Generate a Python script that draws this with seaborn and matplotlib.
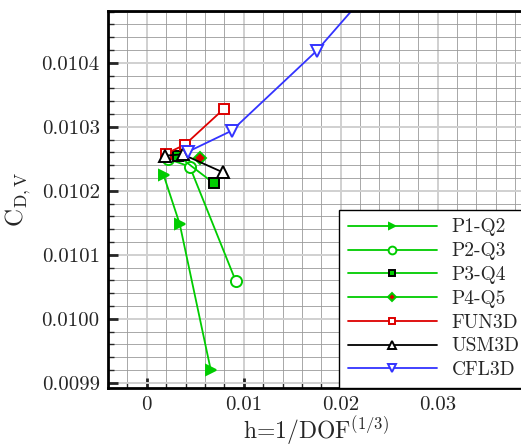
import matplotlib
matplotlib.use("Agg")
import matplotlib.pyplot as plt
import seaborn as sns
from matplotlib.ticker import MultipleLocator, FuncFormatter

# grid spacing h and viscous drag coefficient
p1q2_h = [0.00175, 0.0034, 0.0066]
p1q2_cd = [0.010224, 0.010148, 0.009920]
p2q3_h = [0.00217, 0.00443, 0.00918]
p2q3_cd = [0.010250, 0.010238, 0.010059]
p3q4_h = [0.0032, 0.0069]
p3q4_cd = [0.010255, 0.010212]
p4q5_h = [0.00546]
p4q5_cd = [0.010252]
fun3d_h = [0.00196, 0.00392, 0.00794]
fun3d_cd = [0.010258, 0.010272, 0.010328]
usm3d_h = [0.00186, 0.00371, 0.00784]
usm3d_cd = [0.010255, 0.010257, 0.010229]
cfl3d_h = [0.00423, 0.00876, 0.01753, 0.035]
cfl3d_cd = [0.010261, 0.010294, 0.010419, 0.010722]

sns.set_style("white")
plt.rcParams["font.family"] = ["cmr10", "DejaVu Serif"]
plt.rcParams["mathtext.fontset"] = "cm"
plt.rcParams["axes.formatter.use_mathtext"] = True

fig = plt.figure(figsize=(5.21, 4.47), dpi=100)
ax = fig.add_axes([108 / 521, 59 / 447, 415 / 521, 377 / 447])

green = "#00cc00"
red = "#dd0000"
blue = "#3333ff"

series = [
    ("P1-Q2", p1q2_h, p1q2_cd, green, ">", green, green),
    ("P2-Q3", p2q3_h, p2q3_cd, green, "o", "white", green),
    ("P3-Q4", p3q4_h, p3q4_cd, green, "s", green, "black"),
    ("P4-Q5", p4q5_h, p4q5_cd, green, "D", red, green),
    ("FUN3D", fun3d_h, fun3d_cd, red, "s", "white", red),
    ("USM3D", usm3d_h, usm3d_cd, "black", "^", "white", "black"),
    ("CFL3D", cfl3d_h, cfl3d_cd, blue, "v", "white", blue),
]

for label, h, cd, col, mk, fc, ec in series:
    ms = {"s": 6.5, "D": 6.5, ">": 7, "o": 8}.get(mk, 8.5)
    sns.lineplot(x=h, y=cd, ax=ax, sort=False, color=col, lw=1.3,
                 marker=mk, markersize=ms, markerfacecolor=fc,
                 markeredgecolor=ec, markeredgewidth=1.4, label=label)

ax.set_xlim(-0.004, 0.0388)
ax.set_ylim(0.009892, 0.010481)

ax.xaxis.set_major_locator(MultipleLocator(0.01))
ax.xaxis.set_minor_locator(MultipleLocator(0.002))
ax.yaxis.set_major_locator(MultipleLocator(0.0001))
ax.yaxis.set_minor_locator(MultipleLocator(0.00002))
ax.xaxis.set_major_formatter(FuncFormatter(lambda v, p: "0" if abs(v) < 1e-9 else f"{v:.2f}"))
ax.yaxis.set_major_formatter(FuncFormatter(lambda v, p: f"{v:.4f}"))

ax.grid(which="major", color="#d0d0d0", lw=1.4)
ax.grid(which="minor", color="#9a9a9a", lw=0.6)
ax.set_axisbelow(True)

ax.tick_params(which="major", direction="in", length=7, width=2, labelsize=15,
               left=True, bottom=True, pad=6)
ax.tick_params(which="minor", direction="in", length=4, width=1,
               left=True, bottom=True)
for s in ax.spines.values():
    s.set_linewidth(2)
    s.set_color("black")

ax.set_xlabel(r"h=1/DOF$^{(1/3)}$", fontsize=17, labelpad=0)
ax.set_ylabel(r"C$_{\mathrm{D,V}}$", fontsize=18, labelpad=6)

leg = ax.legend(loc="lower left", bbox_to_anchor=(231 / 415, 0.0),
                fontsize=14, handlelength=4.6, handletextpad=0.75,
                markerscale=0.7, borderaxespad=0, fancybox=False,
                framealpha=1, edgecolor="black", labelspacing=0.3,
                borderpad=0.45)
leg.get_frame().set_linewidth(1.0)

fig.savefig("out.png", dpi=100)
